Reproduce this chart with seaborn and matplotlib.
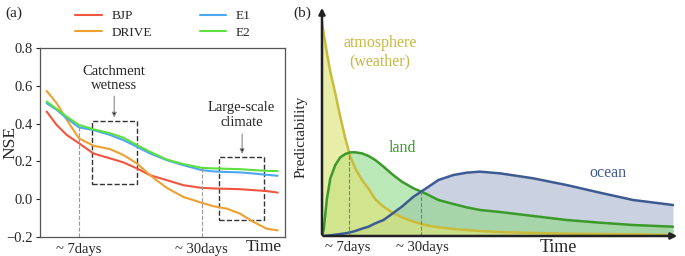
import matplotlib
matplotlib.use("Agg")
import matplotlib.pyplot as plt
import seaborn as sns
import pandas as pd

sns.set_style("ticks")
plt.rcParams['font.family'] = ['Liberation Serif', 'DejaVu Serif']

# --- panel (a): NSE vs lead time (x is a relative time position 0-100)
lead = [2.7, 6.8, 10.9, 15.9, 21.8, 28.6, 34.0, 39.5, 44.9, 51.7, 58.5, 66.0,
        70.7, 76.2, 81.6, 87.1, 92.5, 97.0]
bjp = [0.464, 0.393, 0.340, 0.296, 0.242, 0.216, 0.195, 0.163, 0.127, 0.101, 0.074, 0.060,
       0.057, 0.055, 0.053, 0.048, 0.043, 0.035]
drive = [0.573, 0.508, 0.420, 0.322, 0.283, 0.265, 0.234, 0.190, 0.127, 0.060, 0.012, -0.019,
         -0.037, -0.050, -0.076, -0.120, -0.156, -0.165]
e1 = [0.508, 0.473, 0.428, 0.380, 0.366, 0.340, 0.313, 0.278, 0.242, 0.207, 0.180, 0.154,
      0.147, 0.144, 0.142, 0.136, 0.129, 0.124]
e2 = [0.517, 0.478, 0.437, 0.393, 0.370, 0.349, 0.326, 0.287, 0.251, 0.210, 0.186, 0.166,
      0.163, 0.161, 0.159, 0.154, 0.150, 0.149]
models = ['BJP', 'DRIVE', 'E1', 'E2']
model_colors = ['#f05540', '#f0a030', '#4da6f0', '#5ce040']
tick_pos = [15.9, 66.0]
tick_labels = ['~ 7days', '~ 30days']

# --- panel (b): conceptual predictability curves (x, y in 0-1)
t = [0.0, 0.0047, 0.0142, 0.0237, 0.0379, 0.0521, 0.0664, 0.0806, 0.0948, 0.1137,
     0.1327, 0.1517, 0.1754, 0.1991, 0.2275, 0.2607, 0.2938, 0.3318, 0.3744, 0.4123,
     0.4502, 0.5071, 0.6019, 0.6967, 0.7915, 0.8863, 1.0]
atmos = [1.0, 0.9456, 0.8523, 0.7667, 0.6656, 0.5568, 0.4557, 0.3701, 0.3157, 0.2613,
         0.2208, 0.1711, 0.1369, 0.1104, 0.0871, 0.0669, 0.0513, 0.0404, 0.0327, 0.0280,
         0.0233, 0.0187, 0.0140, 0.0109, 0.0093, 0.0078, 0.0047]
land = [0.0, 0.028, 0.1757, 0.2691, 0.3313, 0.3670, 0.3826, 0.3904, 0.3904, 0.3857,
        0.3733, 0.3546, 0.3235, 0.2893, 0.2535, 0.2224, 0.1991, 0.1680, 0.1493, 0.1337,
        0.1213, 0.1120, 0.0933, 0.0747, 0.0622, 0.0513, 0.0435]
ocean = [0.0, 0.0, 0.0016, 0.0031, 0.0062, 0.0093, 0.0124, 0.0171, 0.0233, 0.0342,
         0.0435, 0.0591, 0.0747, 0.1026, 0.1369, 0.1835, 0.2193, 0.2613, 0.2846, 0.2955,
         0.3002, 0.2924, 0.2691, 0.2379, 0.2022, 0.1680, 0.1446]

df_a = pd.DataFrame({
    'lead': lead * 4,
    'NSE': bjp + drive + e1 + e2,
    'model': sum([[m] * len(lead) for m in models], []),
})

fig = plt.figure(figsize=(6.85, 2.56), dpi=100)
W, H = 685, 256

# ---------------- panel (a)
ax1 = fig.add_axes([40 / W, (H - 237) / H, 245 / W, 189 / H])
sns.lineplot(data=df_a, x='lead', y='NSE', hue='model', palette=model_colors,
             linewidth=1.5, ax=ax1, legend=True)
ax1.set_xlim(0, 100)
ax1.set_ylim(-0.2, 0.8)
ax1.set_yticks([-0.2, 0.0, 0.2, 0.4, 0.6, 0.8])
ax1.set_yticklabels(['\u22120.2', '0.0', '0.2', '0.4', '0.6', '0.8'], fontsize=10.5)
ax1.set_xticks(tick_pos)
ax1.set_xticklabels(tick_labels, fontsize=10.5)
ax1.tick_params(axis='x', length=0, pad=4)
ax1.tick_params(axis='y', length=3, width=0.8, pad=2)
ax1.set_xlabel('')
ax1.set_ylabel('NSE', fontsize=12.5)
ax1.yaxis.set_label_coords(-0.088, 0.5)
for s in ax1.spines.values():
    s.set_color('#555555')
    s.set_linewidth(0.9)

# dashed verticals at 7 and 30 days
ax1.plot([tick_pos[0]] * 2, [-0.2, e2[3]], ls='--', color='#999999', lw=0.8)
ax1.plot([tick_pos[1]] * 2, [-0.2, e2[11]], ls='--', color='#999999', lw=0.8)

# dashed boxes
ax1.add_patch(plt.Rectangle((21.4, 0.083), 18.3, 0.331, fill=False, ls='--',
                            ec='#333333', lw=1.0))
ax1.add_patch(plt.Rectangle((73.1, -0.112), 18.5, 0.333, fill=False, ls='--',
                            ec='#333333', lw=1.0))
ax1.text(30.3, 0.639, 'Catchment\nwetness', ha='center', va='center', fontsize=10.5,
         linespacing=1.15)
ax1.annotate('', xy=(30.3, 0.418), xytext=(30.3, 0.56),
             arrowprops=dict(arrowstyle='-|>', color='#888888', lw=0.8,
                             mutation_scale=7, fc='black'))
ax1.text(82.3, 0.445, 'Large-scale\nclimate', ha='center', va='center', fontsize=10.5,
         linespacing=1.15)
ax1.annotate('', xy=(82.5, 0.225), xytext=(82.5, 0.36),
             arrowprops=dict(arrowstyle='-|>', color='#888888', lw=0.8,
                             mutation_scale=7, fc='black'))
ax1.text(91.5, -0.21, 'Time', ha='center', va='top', fontsize=12.5)

handles, labels = ax1.get_legend_handles_labels()
ax1.legend_.remove()
fig.legend(handles, labels, ncol=2, frameon=False, fontsize=9.5,
           loc='center', bbox_to_anchor=(163 / W, 1 - 24.5 / H),
           handlelength=2.0, columnspacing=3.6, labelspacing=0.35, handletextpad=0.75)
fig.text(5 / W, 1 - 13 / H, '(a)', fontsize=11, va='center')

# ---------------- panel (b)
ax2 = fig.add_axes([322 / W, (H - 236) / H, (680 - 322) / W, (236 - 5) / H])
xmax = (680 - 322) / (673 - 322)
ymax = (236 - 5) / (236 - 21.7)
ax2.set_xlim(0, xmax)
ax2.set_ylim(0, ymax)
for s in ax2.spines.values():
    s.set_visible(False)
ax2.set_xticks([])
ax2.set_yticks([])

ax2.fill_between(t, ocean, color='#c7cfdf', alpha=0.95, lw=0)
ax2.fill_between(t, land, color='#8fd987', alpha=0.6, lw=0)
ax2.fill_between(t, atmos, color='#dde47a', alpha=0.65, lw=0)
df_b = pd.DataFrame({'t': t * 3, 'p': atmos + land + ocean,
                     'comp': ['atmosphere'] * len(t) + ['land'] * len(t) + ['ocean'] * len(t)})
sns.lineplot(data=df_b, x='t', y='p', hue='comp',
             palette=['#cbbb3a', '#3a9a2a', '#3d5b91'], linewidth=1.8, ax=ax2,
             legend=False, sort=False)
ax2.set_xlabel('')
ax2.set_ylabel('')

ax2.plot([0.076] * 2, [0, 0.388], ls='--', color='#6a8a6a', lw=0.8)
ax2.plot([0.281] * 2, [0, 0.207], ls='--', color='#6a8a6a', lw=0.8)

ax2.annotate('', xy=(xmax, 0), xytext=(-0.004, 0), xycoords='data',
             arrowprops=dict(arrowstyle='-|>', color='#222222', lw=1.8, mutation_scale=9),
             annotation_clip=False)
ax2.annotate('', xy=(0, ymax), xytext=(0, -0.006), xycoords='data',
             arrowprops=dict(arrowstyle='-|>', color='#222222', lw=1.8, mutation_scale=9),
             annotation_clip=False)

ax2.text(0.165, 0.86, 'atmosphere\n(weather)', color='#c8b840', fontsize=11.5,
         ha='center', va='center', linespacing=1.2)
ax2.text(0.228, 0.41, 'land', color='#3a9a2a', fontsize=11.5, ha='center', va='center')
ax2.text(0.815, 0.295, 'ocean', color='#3d5b91', fontsize=11.5, ha='center', va='center')

fig.text(348 / W, 1 - 248 / H, '~ 7days', fontsize=10.5, ha='center', va='center')
fig.text(422 / W, 1 - 248 / H, '~ 30days', fontsize=10.5, ha='center', va='center')
fig.text(558 / W, 1 - 247 / H, 'Time', fontsize=13, ha='center', va='center')
fig.text(301 / W, 1 - 137 / H, 'Predictability', fontsize=11, ha='center', va='center',
         rotation=90)
fig.text(293 / W, 1 - 13 / H, '(b)', fontsize=11, va='center')

fig.savefig('out.png', dpi=100)
